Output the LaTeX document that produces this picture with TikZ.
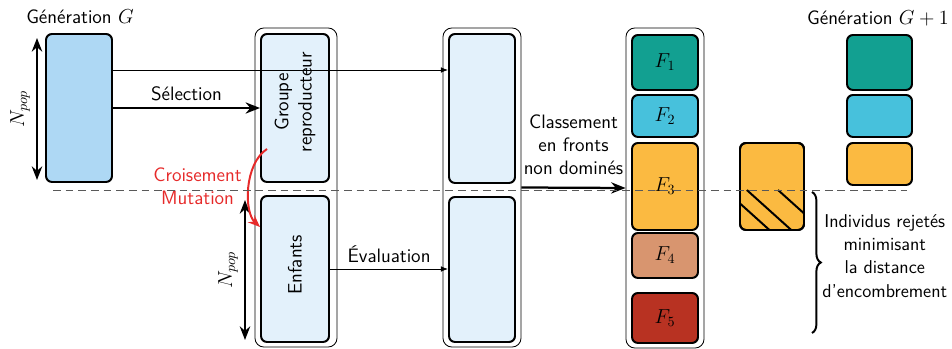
\documentclass[tikz,border=0pt]{standalone}
\usepackage{fontspec}
\usetikzlibrary{arrows.meta,decorations.pathreplacing}

\definecolor{genblue}{HTML}{AED8F4}
\definecolor{paleblue}{HTML}{E3F1FB}
\definecolor{fteal}{HTML}{12A091}
\definecolor{fblue}{HTML}{47C1DC}
\definecolor{forange}{HTML}{FBBA41}
\definecolor{fbrown}{HTML}{D8956F}
\definecolor{fred}{HTML}{B83222}
\definecolor{croisred}{HTML}{E62A2A}

\begin{document}
\begin{tikzpicture}[
    indiv/.style={draw, line width=1.4pt, rounded corners=0.15cm, minimum width=1.65cm, inner sep=0pt},
    colonne/.style={draw, line width=0.6pt, rounded corners=0.22cm, minimum width=1.95cm, minimum height=7.975cm, inner sep=0pt},
    fin/.style={-{Latex[length=1.8mm,width=1.4mm]}, line width=0.5pt},
    gros/.style={-{Stealth[length=3.6mm,width=2.8mm]}, line width=1.6pt},
    npop/.style={{Stealth[length=3.4mm,width=2.6mm]}-{Stealth[length=3.4mm,width=2.6mm]}, line width=1.6pt},
    font=\sffamily\fontsize{13.8}{16.5}\selectfont
  ]
        \useasboundingbox (0,0) rectangle (23.8,-8.725);

        % Generation G
        \node (titreG) at (2.0,-0.425) {Génération $G$};
        \node (genG) [indiv, fill=genblue, minimum height=3.7cm] at (1.975,-2.7) {};
        \coordinate (npA1) at (0.925,-0.95);
        \coordinate (npA2) at (0.925,-4.5);
        \draw[npop] (npA2) -- (npA1) node[midway, sloped, above=1pt] {$N_{pop}$};

        % Groupe reproducteur / Enfants
        \node (col2) [colonne, minimum width=2.05cm] at (7.4,-4.6875) {};
        \node (repro) [indiv, fill=paleblue, minimum width=1.7cm, minimum height=3.7cm] at (7.375,-2.7) {};
        \node (enfants) [indiv, fill=paleblue, minimum width=1.7cm, minimum height=3.65cm] at (7.375,-6.725) {};
        \node[rotate=90, align=center] at ([yshift=0.15cm]repro.center) {Groupe\\reproducteur};
        \node[rotate=90] at ([yshift=0.1cm]enfants.center) {Enfants};
        \coordinate (npB1) at (6.125,-5.0);
        \coordinate (npB2) at (6.125,-8.5);
        \draw[npop] (npB2) -- (npB1) node[midway, sloped, above=1pt] {$N_{pop}$};

        % Population evaluee
        \node (col3) [colonne] at (12.05,-4.6875) {};
        \node (evalA) [indiv, fill=paleblue, minimum height=3.725cm] at (12.05,-2.7125) {};
        \node (evalB) [indiv, fill=paleblue, minimum height=3.625cm] at (12.05,-6.7375) {};

        % Fronts
        \node (col4) [colonne, minimum height=8cm] at (16.625,-4.7) {};
        \foreach \i/\coul/\yc/\haut in {1/fteal/-1.5625/1.375, 2/fblue/-2.9/1.05, 3/forange/-4.6625/2.175, 4/fbrown/-6.3875/1.125, 5/fred/-7.95/1.25}
          \node (F\i) [indiv, fill=\coul, minimum height=\haut cm] at (16.625,\yc) {$F_{\i}$};

        % Individus rejetes
        \node (rejet) [indiv, fill=forange, outer sep=0pt, minimum width=1.6cm, minimum height=2.175cm] at (19.3,-4.6625) {};
        \begin{scope}
          \clip (rejet.south west) rectangle (rejet.east |- 0,-4.75);
          \foreach \xa in {18.125,18.67,19.45}
            \draw[line width=1.4pt] (\xa,-4.75) -- ++(1.5,-1.35);
        \end{scope}
        \draw[line width=1.4pt, rounded corners=0.15cm] (rejet.south west) rectangle (rejet.north east);

        % Generation G+1
        \node (titreG1) at (21.95,-0.45) {Génération $G+1$};
        \node (N1) [indiv, fill=fteal, minimum width=1.625cm, minimum height=1.375cm] at (21.9875,-1.5625) {};
        \node (N2) [indiv, fill=fblue, minimum width=1.625cm, minimum height=1.05cm] at (21.9875,-2.9) {};
        \node (N3) [indiv, fill=forange, minimum width=1.625cm, minimum height=1.05cm] at (21.9875,-4.1) {};

        % Fleches
        \draw[fin] ([yshift=0.95cm]genG.east) -- ([yshift=0.95cm]genG.east -| evalA.west);
        \draw[gros] (genG.east) -- (repro.west) node[midway, above=1pt] {Sélection};
        \draw[fin] (enfants.east) -- (enfants.east -| evalB.west) node[midway, above=1pt] {Évaluation};
        \draw[gros] (col3.east) -- (col4.west) node[midway, above=5pt, align=center] {Classement\\en fronts\\non dominés};

        % Croisement et mutation
        \draw[croisred, line width=1.4pt, -{Stealth[length=3mm,width=2.4mm]}] ([xshift=0.175cm,yshift=0.85cm]repro.south west) .. controls (6.1,-4.1) and (6.1,-5.3) .. ([yshift=-0.8cm]enfants.north west);
        \node (croise) [text=croisred, align=center] at (4.94,-4.65) {Croisement\\Mutation};

        % Accolade
        \coordinate (accA) at (20.3,-4.8);
        \coordinate (accB) at (20.3,-8.325);
        \draw[decorate, decoration={brace, amplitude=0.22cm}, line width=1.4pt] (accA) -- (accB);
        \node (rejetes) [align=center, font=\sffamily\fontsize{13.2}{16.5}\selectfont] at (22.12,-6.4) {Individus rejetés\\minimisant\\la distance\\d'encombrement};

        % Separation
        \coordinate (tA) at (1.325,-4.75);
        \coordinate (tB) at (22.675,-4.75);
        \draw[gray!70!black, line width=0.6pt, dash pattern=on 5.5pt off 3.5pt] (tA) -- (tB);
\end{tikzpicture}
\end{document}
